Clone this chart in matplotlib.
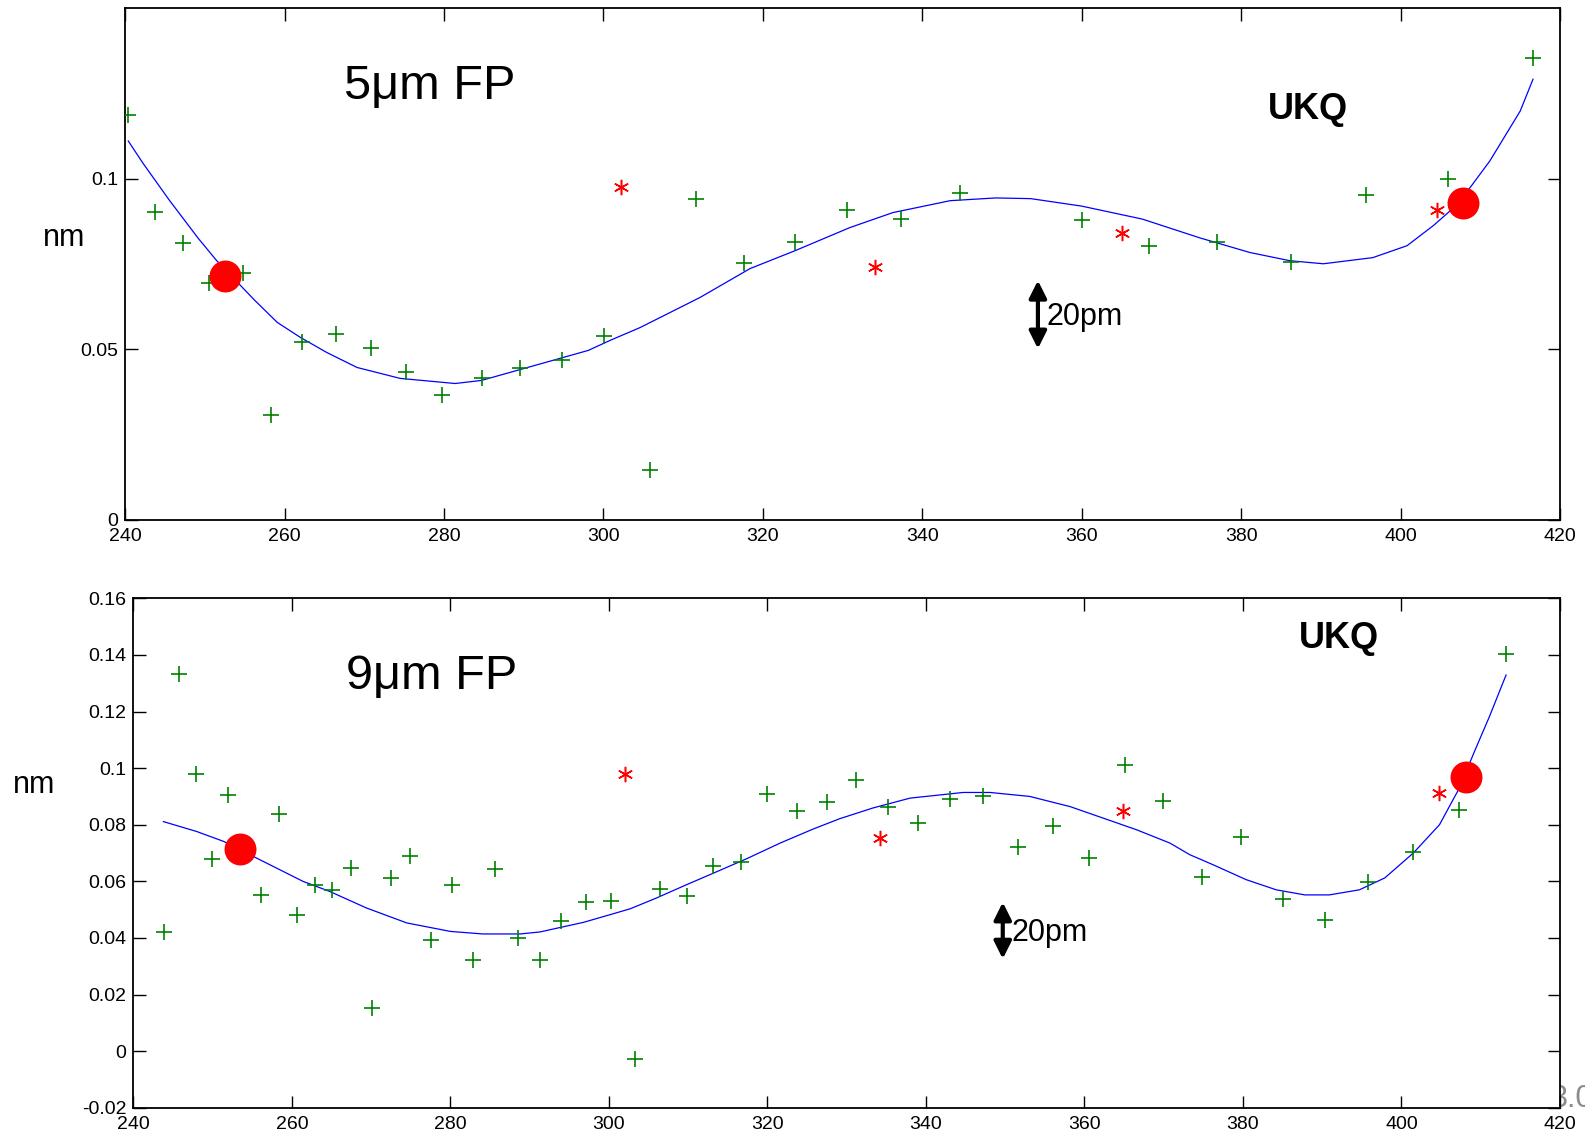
import numpy as np
import matplotlib.pyplot as plt

plt.rcParams['font.family'] = ['Liberation Sans', 'DejaVu Sans']

# ---- 5um FP ----
fp5_x = [240.4, 243.7, 247.3, 250.5, 254.8, 258.3, 262.2, 266.4, 270.8, 275.3,
         279.7, 284.8, 289.6, 294.8, 300.1, 305.8, 311.6, 317.6, 324.0, 330.6,
         337.3, 344.7, 360.0, 368.4, 377.0, 386.3, 395.7, 405.9, 416.6]
fp5_y = [0.1186, 0.0902, 0.0811, 0.0695, 0.0724, 0.0308, 0.0521, 0.0545, 0.0503, 0.0435,
         0.0365, 0.0415, 0.0445, 0.0468, 0.0539, 0.0146, 0.0940, 0.0752, 0.0814, 0.0908,
         0.0881, 0.0958, 0.0878, 0.0802, 0.0814, 0.0757, 0.0952, 0.0999, 0.1354]
fp5_out_x = [302.2, 334.1, 365.0, 404.5]
fp5_out_y = [0.0976, 0.0742, 0.0840, 0.0908]
fp5_ref_x = [252.5, 407.8]
fp5_ref_y = [0.0716, 0.0929]
fp5_fit_x = [240.4, 242.3, 245.6, 249.2, 251.5, 256.3, 259.1, 262.0, 265.3, 269.1,
             274.5, 281.4, 284.7, 298.1, 300.8, 304.6, 312.1, 318.4, 324.0, 330.9,
             336.3, 343.5, 349.2, 353.6, 360.0, 367.6, 374.8, 381.1, 386.1, 390.3,
             396.5, 400.8, 404.1, 406.2, 408.7, 411.2, 415.0, 416.6]
fp5_fit_y = [0.1111, 0.1044, 0.0936, 0.0825, 0.0760, 0.0643, 0.0579, 0.0535, 0.0491, 0.0447,
             0.0415, 0.0400, 0.0409, 0.0497, 0.0526, 0.0564, 0.0652, 0.0737, 0.0789, 0.0857,
             0.0901, 0.0936, 0.0944, 0.0942, 0.0920, 0.0882, 0.0827, 0.0784, 0.0760, 0.0751,
             0.0769, 0.0804, 0.0863, 0.0906, 0.0974, 0.1053, 0.1199, 0.1292]

# ---- 9um FP ----
fp9_x = [243.9, 245.8, 247.9, 249.9, 252.0, 256.1, 258.4, 260.6, 262.9, 265.1,
         267.5, 270.1, 272.5, 274.9, 277.6, 280.2, 282.9, 285.6, 288.5, 291.3,
         294.0, 297.1, 300.3, 303.3, 306.4, 309.9, 313.2, 316.7, 320.0, 323.7,
         327.5, 331.2, 335.2, 339.0, 343.0, 347.2, 351.6, 356.0, 360.6, 365.1,
         369.9, 374.8, 379.7, 385.1, 390.3, 395.8, 401.4, 407.3, 413.2]
fp9_y = [0.0421, 0.1331, 0.0978, 0.0680, 0.0905, 0.0553, 0.0837, 0.0480, 0.0588, 0.0568,
         0.0647, 0.0153, 0.0612, 0.0690, 0.0394, 0.0588, 0.0321, 0.0643, 0.0400, 0.0321,
         0.0459, 0.0526, 0.0532, -0.0027, 0.0573, 0.0549, 0.0653, 0.0670, 0.0908, 0.0849,
         0.0880, 0.0957, 0.0864, 0.0806, 0.0890, 0.0900, 0.0721, 0.0794, 0.0684, 0.1011,
         0.0884, 0.0617, 0.0758, 0.0538, 0.0465, 0.0596, 0.0705, 0.0853, 0.1405]
fp9_out_x = [302.1, 334.2, 364.9, 404.7]
fp9_out_y = [0.0980, 0.0753, 0.0847, 0.0911]
fp9_ref_x = [253.4, 408.1]
fp9_ref_y = [0.0714, 0.0968]
fp9_fit_x = [243.8, 248.0, 251.4, 253.5, 257.2, 261.4, 264.8, 269.4, 274.5, 280.0,
             284.1, 288.8, 291.3, 294.2, 296.8, 300.5, 302.7, 306.0, 309.8, 313.2,
             317.4, 321.6, 325.8, 329.1, 333.3, 338.0, 344.7, 348.1, 353.1, 358.2,
             362.4, 366.6, 370.8, 373.3, 376.2, 380.4, 384.2, 387.8, 390.9, 394.7,
             397.9, 401.5, 404.8, 407.3, 409.2, 411.1, 413.2]
fp9_fit_y = [0.0811, 0.0776, 0.0741, 0.0711, 0.0659, 0.0600, 0.0564, 0.0506, 0.0453, 0.0423,
             0.0414, 0.0414, 0.0421, 0.0439, 0.0455, 0.0485, 0.0503, 0.0541, 0.0588, 0.0629,
             0.0680, 0.0735, 0.0785, 0.0821, 0.0859, 0.0894, 0.0914, 0.0914, 0.0900, 0.0864,
             0.0823, 0.0782, 0.0735, 0.0694, 0.0659, 0.0606, 0.0570, 0.0552, 0.0552, 0.0570,
             0.0612, 0.0700, 0.0800, 0.0929, 0.1058, 0.1182, 0.1329]

scale_bar = 0.02  # 20pm in nm

fig = plt.figure(figsize=(15.85, 11.36), dpi=100)
ax1 = fig.add_axes([0.0789, 0.5423, 0.9054, 0.4504])
ax2 = fig.add_axes([0.0841, 0.0249, 0.9001, 0.4484])


def draw_panel(ax, x, y, ox, oy, rx, ry, fx, fy):
    ax.plot(fx, fy, color='#0000ff', lw=0.9, zorder=2)
    ax.plot(x, y, ls='none', marker='+', ms=11, mew=1.2, color='#008000', zorder=3)
    ax.plot(ox, oy, ls='none', marker=(6, 2, 0), ms=11, mew=1.1, color='#ff0000', zorder=3)
    ax.plot(rx, ry, ls='none', marker='o', ms=23, color='#ff0000', mec='none', zorder=4)
    ax.set_xlim(240, 420)
    ax.set_xticks(np.arange(240, 421, 20))
    ax.tick_params(direction='in', length=9, width=1, top=True, right=True,
                   labelsize=14)
    ax.tick_params(axis='x', pad=6)
    ax.tick_params(axis='y', pad=5)
    for s in ax.spines.values():
        s.set_linewidth(1.3)


def scale_arrow(ax, x, yc, tx, ty):
    ax.annotate('', xy=(x, yc + scale_bar / 2), xytext=(x, yc - scale_bar / 2),
                arrowprops=dict(arrowstyle='<|-|>', color='black', lw=3, mutation_scale=26,
                                shrinkA=0, shrinkB=0))
    ax.text(tx, ty, '20pm', fontsize=22, va='center')


draw_panel(ax1, fp5_x, fp5_y, fp5_out_x, fp5_out_y, fp5_ref_x, fp5_ref_y, fp5_fit_x, fp5_fit_y)
ax1.set_ylim(0, 0.15)
ax1.set_yticks([0, 0.05, 0.1])
ax1.set_yticklabels(['0', '0.05', '0.1'])
ax1.text(267.4, 0.1235, '5\u03bcm FP', fontsize=35)
ax1.text(383.4, 0.1175, 'UKQ', fontsize=26, fontweight='bold')
scale_arrow(ax1, 354.5, 0.0602, 355.6, 0.0594)

draw_panel(ax2, fp9_x, fp9_y, fp9_out_x, fp9_out_y, fp9_ref_x, fp9_ref_y, fp9_fit_x, fp9_fit_y)
ax2.set_ylim(-0.02, 0.16)
ax2.set_yticks(np.arange(-0.02, 0.161, 0.02))
ax2.set_yticklabels(['%g' % round(v, 2) for v in np.arange(-0.02, 0.161, 0.02)])
ax2.text(266.8, 0.1279, '9\u03bcm FP', fontsize=35)
ax2.text(387.1, 0.1423, 'UKQ', fontsize=26, fontweight='bold')
scale_arrow(ax2, 349.7, 0.0426, 350.8, 0.0419)

fig.text(64 / 1585, 1 - 238 / 1136, 'nm', fontsize=22, ha='center', va='center')
fig.text(34 / 1585, 1 - 785 / 1136, 'nm', fontsize=22, ha='center', va='center')
# slide number peeking out behind the lower axes
fig.text(1551 / 1585, 1 - 1107 / 1136, '3.0', fontsize=22, color='#8c8c8c', zorder=-1)

fig.savefig('out.png', dpi=100)
